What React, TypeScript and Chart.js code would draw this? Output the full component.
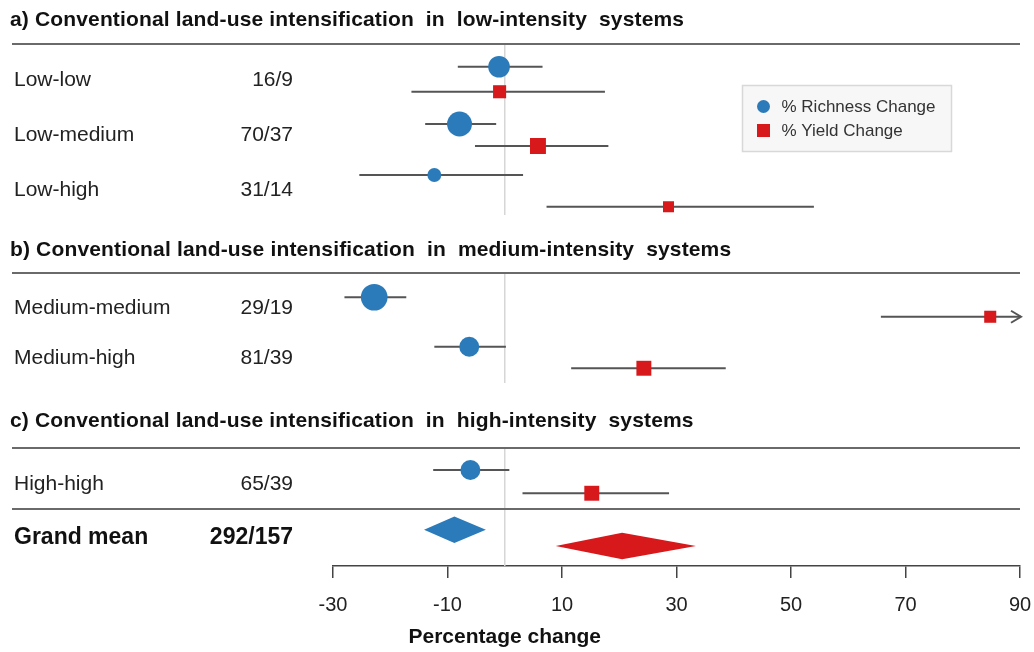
import React, { useEffect, useRef } from 'react';
import { Chart, registerables } from 'chart.js';

Chart.register(...registerables);

// ---------- data ----------
const sectionTitles = [
  'a) Conventional land-use intensification  in  low-intensity  systems',
  'b) Conventional land-use intensification  in  medium-intensity  systems',
  'c) Conventional land-use intensification  in  high-intensity  systems',
];
const sectionTitleRows = [0.8, 10.0, 16.84];
const separatorRows = [1.76, 10.92, 17.92, 20.36];
const zeroLineSpans = [
  [1.76, 8.6],
  [10.92, 15.32],
  [17.92, 22.64],
];

const studyLabels = ['Low-low', 'Low-medium', 'Low-high', 'Medium-medium', 'Medium-high', 'High-high'];
const studyCounts = ['16/9', '70/37', '31/14', '29/19', '81/39', '65/39'];
const studyRows = [3.2, 5.4, 7.6, 12.32, 14.32, 19.36];

const richnessEst = [-1.0, -7.9, -12.3, -22.8, -6.2, -6.0];
const richnessLo = [-8.2, -13.9, -25.4, -28.0, -12.3, -12.5];
const richnessHi = [6.6, -1.5, 3.2, -17.2, 0.2, 0.8];
const richnessRows = [2.67, 4.96, 7.0, 11.89, 13.87, 18.8];
const richnessWeight = [9.0, 10.4, 5.8, 11.1, 8.3, 8.3];

const yieldEst = [-0.9, 5.8, 28.6, 84.8, 24.3, 15.2];
const yieldLo = [-16.3, -5.2, 7.3, 65.7, 11.6, 3.1];
const yieldHi = [17.5, 18.1, 54.0, 110.0, 38.6, 28.7];
const yieldRows = [3.67, 5.84, 8.27, 12.67, 14.73, 19.73];
const yieldWeight = [7.7, 9.4, 6.5, 7.1, 8.8, 8.8];

const grandLabel = 'Grand mean';
const grandCount = '292/157';
const grandRow = 21.52;
const grandRichness = { est: -8.8, lo: -14.1, hi: -3.3, row: 21.19 };
const grandYield = { est: 20.5, lo: 8.9, hi: 33.4, row: 21.84 };

const seriesNames = ['% Richness Change', '% Yield Change'];
const tickValues = [-30, -10, 10, 30, 50, 70, 90];
const xMin = -30;
const xMax = 90;
const rowMax = 22.64;
const axisTitle = 'Percentage change';

// ---------- styles ----------
const FONT = '"Liberation Sans", Arial, Helvetica, sans-serif';
const BLUE = '#2b7bba';
const RED = '#d7191c';
const CI_COLOR = '#555555';
const SEP_COLOR = '#6a6a6a';
const ZERO_COLOR = '#d6d6d6';
const TEXT = '#222222';

const forestPlugin = {
  id: 'forestPlot',
  beforeDatasetsDraw(chart: any) {
    const { ctx, chartArea } = chart;
    const x = chart.scales.x;
    const y = chart.scales.y;
    ctx.save();

    // zero reference line
    ctx.strokeStyle = ZERO_COLOR;
    ctx.lineWidth = 1.5;
    const zx = x.getPixelForValue(0);
    zeroLineSpans.forEach(([a, b]) => {
      ctx.beginPath();
      ctx.moveTo(zx, y.getPixelForValue(a));
      ctx.lineTo(zx, y.getPixelForValue(b));
      ctx.stroke();
    });

    // separators
    ctx.strokeStyle = SEP_COLOR;
    ctx.lineWidth = 2;
    separatorRows.forEach((r) => {
      const py = y.getPixelForValue(r);
      ctx.beginPath();
      ctx.moveTo(12, py);
      ctx.lineTo(chartArea.right, py);
      ctx.stroke();
    });

    // confidence intervals
    ctx.strokeStyle = CI_COLOR;
    ctx.lineWidth = 2;
    const drawCI = (lo: number[], hi: number[], rows: number[]) => {
      rows.forEach((r, i) => {
        const py = y.getPixelForValue(r);
        const l = Math.max(lo[i], xMin);
        const h = Math.min(hi[i], xMax);
        const pl = x.getPixelForValue(l);
        const ph = x.getPixelForValue(h);
        ctx.beginPath();
        ctx.moveTo(pl, py);
        ctx.lineTo(ph + (hi[i] > xMax ? 1 : 0), py);
        ctx.stroke();
        if (hi[i] > xMax) {
          ctx.beginPath();
          ctx.moveTo(ph - 9, py - 6);
          ctx.lineTo(ph + 1, py);
          ctx.lineTo(ph - 9, py + 6);
          ctx.stroke();
        }
      });
    };
    drawCI(richnessLo, richnessHi, richnessRows);
    drawCI(yieldLo, yieldHi, yieldRows);

    // summary diamonds
    const diamond = (d: any, color: string) => {
      const py = y.getPixelForValue(d.row);
      const half = 13.3;
      ctx.fillStyle = color;
      ctx.beginPath();
      ctx.moveTo(x.getPixelForValue(d.lo), py);
      ctx.lineTo(x.getPixelForValue(d.est), py - half);
      ctx.lineTo(x.getPixelForValue(d.hi), py);
      ctx.lineTo(x.getPixelForValue(d.est), py + half);
      ctx.closePath();
      ctx.fill();
    };
    diamond(grandRichness, BLUE);
    diamond(grandYield, RED);

    // texts
    ctx.textBaseline = 'middle';
    ctx.fillStyle = '#111111';
    ctx.textAlign = 'left';
    ctx.font = `bold 21px ${FONT}`;
    ctx.letterSpacing = '0.15px';
    sectionTitles.forEach((t, i) => {
      ctx.fillText(t, 10, y.getPixelForValue(sectionTitleRows[i]));
    });
    ctx.letterSpacing = '0px';

    ctx.fillStyle = TEXT;
    ctx.font = `21px ${FONT}`;
    studyLabels.forEach((t, i) => {
      ctx.textAlign = 'left';
      ctx.fillText(t, 14, y.getPixelForValue(studyRows[i]));
      ctx.textAlign = 'right';
      ctx.fillText(studyCounts[i], 293, y.getPixelForValue(studyRows[i]));
    });
    ctx.fillStyle = '#111111';
    ctx.font = `bold 23px ${FONT}`;
    ctx.textAlign = 'left';
    ctx.fillText(grandLabel, 14, y.getPixelForValue(grandRow));
    ctx.textAlign = 'right';
    ctx.fillText(grandCount, 293, y.getPixelForValue(grandRow));

    // axis title
    ctx.textAlign = 'center';
    ctx.font = `bold 21px ${FONT}`;
    ctx.fillText(axisTitle, zx, chartArea.bottom + 71);

    ctx.restore();
  },
  afterDatasetsDraw(chart: any) {
    const { ctx } = chart;
    ctx.save();
    // legend box
    const bx = 742.5, by = 85.5, bw = 209, bh = 66;
    ctx.fillStyle = '#f7f7f7';
    ctx.fillRect(bx, by, bw, bh);
    ctx.strokeStyle = '#d8d8d8';
    ctx.lineWidth = 1.5;
    ctx.strokeRect(bx, by, bw, bh);
    ctx.font = `17px ${FONT}`;
    ctx.textBaseline = 'middle';
    ctx.textAlign = 'left';
    chart.data.datasets.forEach((ds: any, i: number) => {
      const cy = by + 21 + i * 24;
      ctx.fillStyle = ds.backgroundColor;
      if (ds.pointStyle === 'circle') {
        ctx.beginPath();
        ctx.arc(bx + 21, cy, 6.5, 0, Math.PI * 2);
        ctx.fill();
      } else {
        ctx.fillRect(bx + 21 - 6.5, cy - 6.5, 13, 13);
      }
      ctx.fillStyle = '#333333';
      ctx.fillText(ds.label, bx + 39, cy + 1);
    });
    ctx.restore();
  },
};

export default function App() {
  const canvasRef = useRef<HTMLCanvasElement | null>(null);

  useEffect(() => {
    const canvas = canvasRef.current;
    if (!canvas) return;
    const chart = new Chart(canvas, {
      type: 'scatter',
      data: {
        datasets: [
          {
            label: seriesNames[0],
            data: richnessEst.map((v, i) => ({ x: v, y: richnessRows[i] })),
            pointStyle: 'circle',
            backgroundColor: BLUE,
            borderWidth: 0,
            pointRadius: (c: any) => richnessWeight[c.dataIndex] * 1.2,
          } as any,
          {
            label: seriesNames[1],
            data: yieldEst.map((v, i) => ({ x: v, y: yieldRows[i] })),
            pointStyle: 'rect',
            backgroundColor: RED,
            borderWidth: 0,
            pointRadius: (c: any) => yieldWeight[c.dataIndex] * 1.2,
          } as any,
        ],
      },
      options: {
        responsive: false,
        devicePixelRatio: 1,
        animation: false,
        events: [],
        layout: { autoPadding: false, padding: { left: 333, right: 14, top: 0, bottom: 20 } },
        plugins: { legend: { display: false }, tooltip: { enabled: false } },
        scales: {
          x: {
            type: 'linear',
            min: xMin,
            max: xMax,
            afterBuildTicks: (s: any) => {
              s.ticks = tickValues.map((v) => ({ value: v }));
            },
            afterFit: (s: any) => {
              s.paddingLeft = 0;
              s.paddingRight = 0;
            },
            grid: {
              display: true,
              drawOnChartArea: false,
              drawTicks: true,
              tickLength: 12,
              color: '#444444',
              lineWidth: 1.5,
            },
            border: { display: true, color: '#444444', width: 1.5 },
            ticks: {
              autoSkip: false,
              maxRotation: 0,
              padding: 15,
              color: '#222222',
              font: { family: FONT, size: 20 },
            },
          },
          y: {
            type: 'linear',
            reverse: true,
            min: 0,
            max: rowMax,
            display: false,
          },
        },
      } as any,
      plugins: [forestPlugin],
    });
    return () => chart.destroy();
  }, []);

  return (
    <div style={{ position: 'absolute', left: 0, top: 0, width: 1034, height: 652, background: '#ffffff' }}>
      <canvas ref={canvasRef} width={1034} height={652} style={{ display: 'block' }} />
    </div>
  );
}
